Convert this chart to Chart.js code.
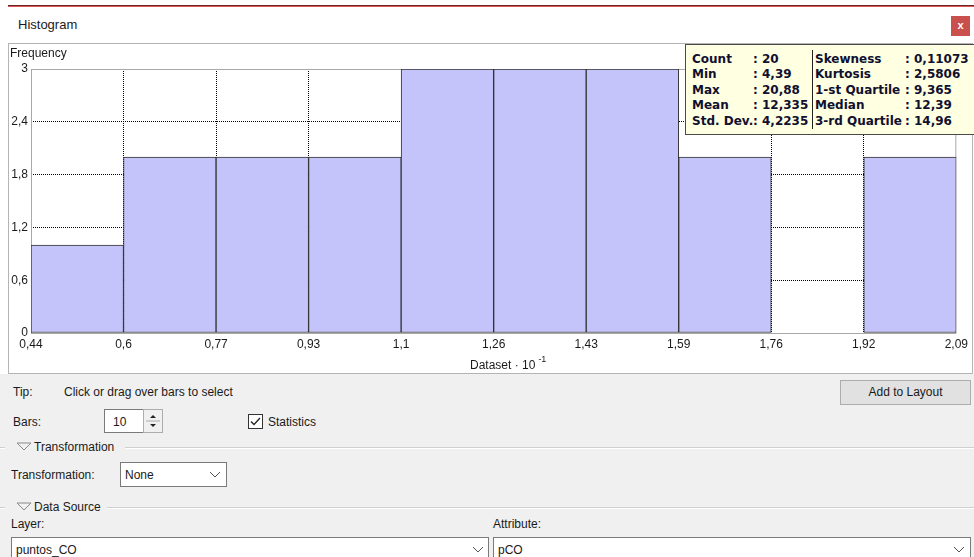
<!DOCTYPE html>
<html>
<head>
<meta charset="utf-8">
<script src="https://cdn.jsdelivr.net/npm/chart.js@4.4.1/dist/chart.umd.min.js"></script>
<style>
  body { margin: 0; width: 974px; height: 557px; overflow: hidden; background: #fff;
         font-family: "Liberation Sans", Arial, sans-serif; font-size: 12px; color: #1a1a1a; position: relative; }
  .abs { position: absolute; white-space: nowrap; }
  .lower { position: absolute; left: 0; top: 374px; width: 974px; height: 183px; background: #f0f0f0; }
  .panel { position: absolute; left: 8px; top: 43px; width: 963px; height: 329px; border: 1px solid #b4b4b4; background: #fff; }
  .chartBox { position: absolute; left: 0; top: 0; width: 963px; height: 329px; }
  .stats { position: absolute; left: 685px; top: 44px; width: 300px; height: 89px; background: #ffffe1;
           border: 1px solid #4a4a4a; font: bold 12px "DejaVu Sans", Verdana, sans-serif; color: #101030; }
  .stats span { position: absolute; white-space: nowrap; }
  .field { position: absolute; background: #fff; border: 1px solid #7a7a7a; box-sizing: border-box; }
  .sep { position: absolute; height: 1px; background: #d0d0d0; border-bottom: 1px solid #fff; }
</style>
</head>
<body>
<div class="abs" style="left:8px;top:5px;width:966px;height:1px;background:#6b2525;"></div>
<div class="abs" style="left:8px;top:6px;width:966px;height:1px;background:#e05555;"></div>
<div class="abs" style="left:18px;top:17px;font-size:13px;">Histogram</div>
<div class="abs" style="left:951px;top:16px;width:19px;height:20px;background:#c9504c;color:#fff;font-weight:bold;font-size:11px;text-align:center;line-height:19px;">x</div>

<div class="panel">
  <div class="chartBox"><canvas id="histogramChart"></canvas></div>
  <div class="abs" style="left:1px;top:2px;">Frequency</div>
  <div class="abs" style="left:461px;top:312px;">Dataset · 10<sup style="font-size:9px;position:relative;top:-2px;margin-left:3px;">-1</sup></div>
</div>

<div class="stats">
  <span style="left:6px;top:7px;">Count</span><span style="left:67px;top:7px;">: 20</span>
  <span style="left:6px;top:22px;">Min</span><span style="left:67px;top:22px;">: 4,39</span>
  <span style="left:6px;top:38px;">Max</span><span style="left:67px;top:38px;">: 20,88</span>
  <span style="left:6px;top:53px;">Mean</span><span style="left:67px;top:53px;">: 12,335</span>
  <span style="left:6px;top:69px;">Std. Dev.</span><span style="left:67px;top:69px;">: 4,2235</span>
  <span style="left:126px;top:5px;width:1px;height:79px;background:#222;"></span>
  <span style="left:129px;top:7px;">Skewness</span><span style="left:219px;top:7px;">: 0,11073</span>
  <span style="left:129px;top:22px;">Kurtosis</span><span style="left:219px;top:22px;">: 2,5806</span>
  <span style="left:129px;top:38px;">1-st Quartile</span><span style="left:219px;top:38px;">: 9,365</span>
  <span style="left:129px;top:53px;">Median</span><span style="left:219px;top:53px;">: 12,39</span>
  <span style="left:129px;top:69px;">3-rd Quartile</span><span style="left:219px;top:69px;">: 14,96</span>
</div>

<div class="lower"></div>
<div class="abs" style="left:13px;top:385px;">Tip:</div>
<div class="abs" style="left:64px;top:385px;">Click or drag over bars to select</div>
<div class="abs" style="left:840px;top:380px;width:129px;height:23px;background:#e1e1e1;border:1px solid #adadad;text-align:center;line-height:23px;">Add to Layout</div>

<div class="abs" style="left:13px;top:415px;">Bars:</div>
<div class="field" style="left:104px;top:409px;width:40px;height:24px;"><span class="abs" style="left:8px;top:5px;">10</span></div>
<div class="field" style="left:143px;top:409px;width:20px;height:24px;background:#f0f0f0;border-color:#adadad;">
  <svg width="18" height="22" style="position:absolute;left:0;top:0;">
    <line x1="2" y1="11" x2="16" y2="11" stroke="#adadad"/>
    <polygon points="6,8 12,8 9,5" fill="#222"/>
    <polygon points="6,14 12,14 9,17" fill="#222"/>
  </svg>
</div>
<svg class="abs" style="left:248px;top:414px;" width="15" height="15">
  <rect x="0.5" y="0.5" width="14" height="14" fill="#fff" stroke="#333"/>
  <polyline points="3,7.5 6,10.5 12,4" fill="none" stroke="#222" stroke-width="1.3"/>
</svg>
<div class="abs" style="left:268px;top:415px;">Statistics</div>

<div class="sep" style="left:0;top:447px;width:5px;"></div>
<svg class="abs" style="left:16px;top:442px;" width="16" height="10"><polygon points="1,1 15,1 8,8" fill="none" stroke="#8a8a8a"/></svg>
<div class="abs" style="left:34px;top:440px;">Transformation</div>
<div class="sep" style="left:125px;top:447px;width:849px;"></div>

<div class="abs" style="left:11px;top:468px;">Transformation:</div>
<div class="field" style="left:120px;top:462px;width:107px;height:25px;">
  <span class="abs" style="left:4px;top:5px;">None</span>
  <svg class="abs" style="left:88px;top:8px;" width="12" height="8"><polyline points="1,1 6,6 11,1" fill="none" stroke="#555"/></svg>
</div>

<div class="sep" style="left:0;top:507px;width:5px;"></div>
<svg class="abs" style="left:16px;top:502px;" width="16" height="10"><polygon points="1,1 15,1 8,8" fill="none" stroke="#8a8a8a"/></svg>
<div class="abs" style="left:34px;top:500px;">Data Source</div>
<div class="sep" style="left:107px;top:507px;width:867px;"></div>

<div class="abs" style="left:11px;top:517px;">Layer:</div>
<div class="abs" style="left:493px;top:517px;">Attribute:</div>
<div class="field" style="left:11px;top:537px;width:478px;height:26px;">
  <span class="abs" style="left:4px;top:5px;">puntos_CO</span>
  <svg class="abs" style="left:460px;top:8px;" width="12" height="8"><polyline points="1,1 6,6 11,1" fill="none" stroke="#555"/></svg>
</div>
<div class="field" style="left:493px;top:537px;width:478px;height:26px;">
  <span class="abs" style="left:4px;top:5px;">pCO</span>
  <svg class="abs" style="left:459px;top:8px;" width="12" height="8"><polyline points="1,1 6,6 11,1" fill="none" stroke="#555"/></svg>
</div>

<script>
// histogram of pCO, 10 bins
const binCounts = [1, 2, 2, 2, 3, 3, 3, 2, 0, 2];
const binEdgeLabels = ['0,44', '0,6', '0,77', '0,93', '1,1', '1,26', '1,43', '1,59', '1,76', '1,92', '2,09'];
const yTickLabels = ['0', '0,6', '1,2', '1,8', '2,4', '3'];
const yStep = 0.6;
const yMax = 3;

// bar centres sit halfway between bin edges (edge index i .. i+1)
const barPoints = binCounts.map((c, i) => ({ x: i + 0.5, y: c }));

// light grey frame round the plot area, drawn over the dotted grid
const plotFrame = {
    id: 'plotFrame',
    beforeDatasetsDraw(chart) {
        const { ctx, chartArea: a } = chart;
        ctx.save();
        ctx.strokeStyle = '#a8a8a8';
        ctx.lineWidth = 1;
        ctx.strokeRect(a.left + 0.5, a.top + 0.5, a.right - a.left - 1, a.bottom - a.top);
        ctx.restore();
    }
};

const edgeColor = (lo, hi) => (c) => {
    if (!c.tick) return '#000';
    return (Math.abs(c.tick.value - lo) < 1e-6 || Math.abs(c.tick.value - hi) < 1e-6) ? 'rgba(0,0,0,0)' : '#000';
};

const ctx = document.getElementById('histogramChart').getContext('2d');

const histogramChart = new Chart(ctx, {
    type: 'bar',
    data: {
        datasets: [{
            label: 'Frequency',
            data: barPoints,
            backgroundColor: '#c4c4fb',
            borderColor: '#333333',
            borderWidth: 1,
            borderSkipped: false,
            barPercentage: 1,
            categoryPercentage: 1
        }]
    },
    options: {
        responsive: true,
        maintainAspectRatio: false,
        animation: false,
        layout: { padding: { left: 0, top: 25, right: 15, bottom: 0 } },
        plugins: { legend: { display: false }, tooltip: { enabled: false } },
        scales: {
            x: {
                type: 'linear',
                min: 0,
                max: binCounts.length,
                offset: false,
                grid: { offset: false, drawTicks: false, color: edgeColor(0, binCounts.length), lineWidth: 1 },
                border: { display: false, dash: [1, 1] },
                ticks: {
                    stepSize: 1,
                    autoSkip: false,
                    maxRotation: 0,
                    padding: 4,
                    color: '#1a1a1a',
                    font: { family: '"Liberation Sans", Arial', size: 12 },
                    callback: (v) => binEdgeLabels[v]
                },
                afterFit: (s) => { s.height = 40; }
            },
            y: {
                min: 0,
                max: yMax,
                grid: { drawTicks: false, color: edgeColor(0, yMax), lineWidth: 1 },
                border: { display: false, dash: [1, 1] },
                ticks: {
                    stepSize: yStep,
                    padding: 3,
                    color: '#1a1a1a',
                    font: { family: '"Liberation Sans", Arial', size: 12 },
                    callback: (v) => yTickLabels[Math.round(v / yStep)]
                },
                afterFit: (s) => { s.width = 22; }
            }
        }
    },
    plugins: [plotFrame]
});
</script>
</body>
</html>
